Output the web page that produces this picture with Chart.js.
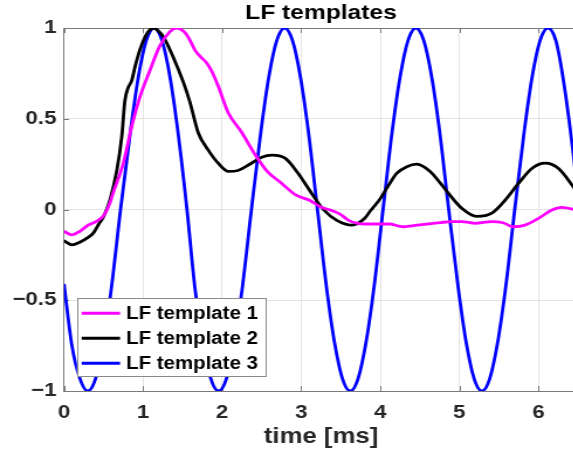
<!DOCTYPE html>
<html>
<head>
<meta charset="utf-8">
<script src="https://cdn.jsdelivr.net/npm/chart.js@4"></script>
<style>
  html, body { margin: 0; padding: 0; background: #ffffff; overflow: hidden; width: 573px; height: 457px; }
  #wrap { position: absolute; left: 0; top: 0; width: 494px; height: 457px; transform: scaleX(1.17); transform-origin: 0 0; }
</style>
</head>
<body>
<div id="wrap"><canvas id="c" width="494" height="457"></canvas></div>
<script>
// ---- data ----
const seriesNames = ['LF template 1', 'LF template 2', 'LF template 3'];
const seriesColors = ['#ff00ff', '#000000', '#0000ff'];

// LF template 1 (magenta)
const t1 = [0, 0.1, 0.2, 0.31, 0.41, 0.5, 0.58, 0.62, 0.75, 0.856, 0.96, 1.09, 1.21, 1.34, 1.42, 1.53, 1.59, 1.66, 1.73, 1.8, 1.87, 1.95, 2.08, 2.24, 2.42, 2.57, 2.75, 2.93, 3.11, 3.24, 3.38, 3.49, 3.6, 3.7, 3.8, 3.96, 4.12, 4.22, 4.29, 4.4, 4.59, 4.76, 4.9, 5.03, 5.2, 5.41, 5.55, 5.68, 5.83, 6.0, 6.17, 6.29, 6.4, 6.5];
const v1 = [-0.12, -0.14, -0.12, -0.085, -0.065, -0.035, 0.035, 0.09, 0.255, 0.457, 0.62, 0.77, 0.9, 0.98, 1.0, 0.975, 0.935, 0.875, 0.84, 0.81, 0.76, 0.68, 0.53, 0.43, 0.3, 0.21, 0.145, 0.08, 0.05, 0.015, -0.005, -0.025, -0.06, -0.075, -0.08, -0.08, -0.08, -0.09, -0.095, -0.09, -0.08, -0.072, -0.067, -0.067, -0.076, -0.067, -0.073, -0.095, -0.086, -0.049, -0.003, 0.012, 0.005, -0.005];

// LF template 2 (black)
const t2 = [0, 0.1, 0.2, 0.3, 0.37, 0.44, 0.5, 0.58, 0.67, 0.73, 0.77, 0.81, 0.856, 0.9, 0.96, 1.05, 1.13, 1.19, 1.26, 1.38, 1.51, 1.59, 1.7, 1.82, 1.95, 2.08, 2.2, 2.37, 2.5, 2.63, 2.795, 2.96, 3.13, 3.28, 3.45, 3.64, 3.8, 3.87, 4.0, 4.1, 4.21, 4.335, 4.46, 4.63, 4.76, 4.86, 5.03, 5.22, 5.41, 5.58, 5.75, 5.92, 6.085, 6.25, 6.44, 6.5];
const v2 = [-0.172, -0.195, -0.18, -0.155, -0.13, -0.08, -0.04, 0.05, 0.22, 0.4, 0.6, 0.67, 0.71, 0.79, 0.88, 0.97, 1.0, 0.985, 0.95, 0.84, 0.7, 0.595, 0.42, 0.33, 0.255, 0.21, 0.215, 0.255, 0.288, 0.3, 0.283, 0.2, 0.09, 0.0, -0.06, -0.086, -0.05, -0.01, 0.06, 0.13, 0.2, 0.236, 0.25, 0.21, 0.145, 0.09, 0.007, -0.038, -0.02, 0.052, 0.145, 0.227, 0.255, 0.227, 0.126, 0.09];

// LF template 3 (blue)
const t3 = [0, 0.1, 0.2, 0.3, 0.4, 0.5, 0.6, 0.715, 0.84, 0.94, 1.04, 1.14, 1.24, 1.34, 1.44, 1.555, 1.655, 1.755, 1.855, 1.955, 2.055, 2.155, 2.255, 2.37, 2.49, 2.59, 2.69, 2.79, 2.89, 2.99, 3.09, 3.205, 3.32, 3.42, 3.52, 3.62, 3.72, 3.82, 3.92, 4.035, 4.15, 4.25, 4.35, 4.45, 4.55, 4.65, 4.75, 4.865, 4.985, 5.085, 5.185, 5.285, 5.385, 5.485, 5.585, 5.7, 5.82, 5.92, 6.02, 6.12, 6.22, 6.32, 6.44, 6.5];
const v3 = [-0.41, -0.75, -0.93, -1.0, -0.93, -0.73, -0.43, 0.0, 0.43, 0.73, 0.93, 1.0, 0.93, 0.73, 0.43, 0.0, -0.43, -0.73, -0.93, -1.0, -0.93, -0.73, -0.43, 0.0, 0.43, 0.73, 0.93, 1.0, 0.93, 0.73, 0.43, 0.0, -0.43, -0.73, -0.93, -1.0, -0.93, -0.73, -0.43, 0.0, 0.43, 0.73, 0.93, 1.0, 0.93, 0.73, 0.43, 0.0, -0.43, -0.73, -0.93, -1.0, -0.93, -0.73, -0.43, 0.0, 0.43, 0.73, 0.93, 1.0, 0.93, 0.7, 0.31, 0.08];

// axes
const xTicks = [0, 1, 2, 3, 4, 5, 6];
const xTickLabels = ['0', '1', '2', '3', '4', '5', '6'];
const yTicks = [-1, -0.5, 0, 0.5, 1];
const yTickLabels = ['\u22121', '\u22120.5', '0', '0.5', '1'];
const xMin = 0, xMax = 6.5, yMin = -1, yMax = 1;
const titleText = 'LF templates';
const xTitle = 'time [ms]';

// ---- build ----
function pts(t, v) { return t.map((x, i) => ({ x: x, y: v[i] })); }
const seriesT = [t1, t2, t3];
const seriesV = [v1, v2, v3];

const FONT = '"Liberation Sans", Arial, Helvetica, sans-serif';
const AXIS_COLOR = '#7a7a7a';

const axesExtras = {
  id: 'axesExtras',
  beforeDatasetsDraw(chart) {
    const { ctx, chartArea: a, scales } = chart;
    ctx.save();
    ctx.strokeStyle = AXIS_COLOR;
    ctx.lineWidth = 1;
    ctx.beginPath();
    ctx.moveTo(a.left, a.top + 0.5);
    ctx.lineTo(a.right, a.top + 0.5);
    xTicks.forEach(v => {
      const px = Math.round(scales.x.getPixelForValue(v)) + 0.5;
      ctx.moveTo(px, a.bottom); ctx.lineTo(px, a.bottom - 5);
      ctx.moveTo(px, a.top); ctx.lineTo(px, a.top + 5);
    });
    yTicks.forEach(v => {
      const py = Math.round(scales.y.getPixelForValue(v)) + 0.5;
      ctx.moveTo(a.left, py); ctx.lineTo(a.left + 4.3, py);
    });
    ctx.stroke();
    ctx.restore();
  }
};

const boxLegend = {
  id: 'boxLegend',
  afterDatasetsDraw(chart) {
    const { ctx } = chart;
    const x0 = 65.8, y0 = 298.3, x1 = 227.1, y1 = 376.7;
    ctx.save();
    ctx.fillStyle = '#ffffff';
    ctx.fillRect(x0, y0, x1 - x0, y1 - y0);
    ctx.strokeStyle = '#8a8a8a';
    ctx.lineWidth = 1;
    ctx.strokeRect(Math.round(x0) + 0.5, Math.round(y0) + 0.5, Math.round(x1 - x0), Math.round(y1 - y0));
    const rows = [313.3, 338.3, 363.3];
    ctx.font = 'bold 17.5px ' + FONT;
    ctx.textBaseline = 'middle';
    ctx.textAlign = 'left';
    chart.data.datasets.forEach((ds, i) => {
      ctx.strokeStyle = ds.borderColor;
      ctx.lineWidth = 3;
      ctx.beginPath();
      ctx.moveTo(69.8, rows[i]);
      ctx.lineTo(102.6, rows[i]);
      ctx.stroke();
      ctx.fillStyle = '#000000';
      ctx.fillText(ds.label, 107.7, rows[i] + 1);
    });
    ctx.restore();
  }
};

new Chart(document.getElementById('c'), {
  type: 'line',
  data: {
    datasets: seriesNames.map((name, i) => ({
      label: name,
      data: pts(seriesT[i], seriesV[i]),
      borderColor: seriesColors[i],
      backgroundColor: seriesColors[i],
      borderWidth: 2.8,
      pointRadius: 0,
      fill: false,
      cubicInterpolationMode: 'monotone'
    }))
  },
  options: {
    responsive: false,
    animation: false,
    devicePixelRatio: 1,
    layout: { padding: { left: 0, right: 0, top: 0, bottom: 0 } },
    plugins: {
      legend: { display: false },
      tooltip: { enabled: false },
      title: {
        display: true,
        fullSize: false,
        text: titleText,
        color: '#000000',
        font: { family: FONT, size: 21, weight: 'bold' },
        padding: { top: 1, bottom: 1.8 }
      }
    },
    scales: {
      x: {
        type: 'linear',
        min: xMin, max: xMax,
        afterBuildTicks(s) { s.ticks = xTicks.map(v => ({ value: v })); },
        afterFit(s) { s.height = 66; },
        ticks: {
          autoSkip: false, maxRotation: 0,
          padding: 10,
          color: '#262626',
          font: { family: FONT, size: 19, weight: 'bold' },
          callback: (v) => { const k = xTicks.indexOf(v); return k >= 0 ? xTickLabels[k] : ''; }
        },
        grid: { color: '#e4e4e4', lineWidth: 1, drawTicks: false },
        border: { display: true, color: AXIS_COLOR, width: 1 },
        title: {
          display: true, text: xTitle, color: '#262626',
          font: { family: FONT, size: 22, weight: 'bold' },
          padding: { top: 0, bottom: 7 }
        }
      },
      y: {
        type: 'linear',
        min: yMin, max: yMax,
        afterBuildTicks(s) { s.ticks = yTicks.map(v => ({ value: v })); },
        afterFit(s) { s.width = 54.7; },
        ticks: {
          autoSkip: false,
          padding: 6.5,
          color: '#262626',
          font: { family: FONT, size: 19, weight: 'bold' },
          callback: (v) => { const k = yTicks.indexOf(v); return k >= 0 ? yTickLabels[k] : ''; }
        },
        grid: { color: '#e4e4e4', lineWidth: 1, drawTicks: false },
        border: { display: true, color: AXIS_COLOR, width: 1 }
      }
    }
  },
  plugins: [axesExtras, boxLegend]
});
</script>
</body>
</html>
